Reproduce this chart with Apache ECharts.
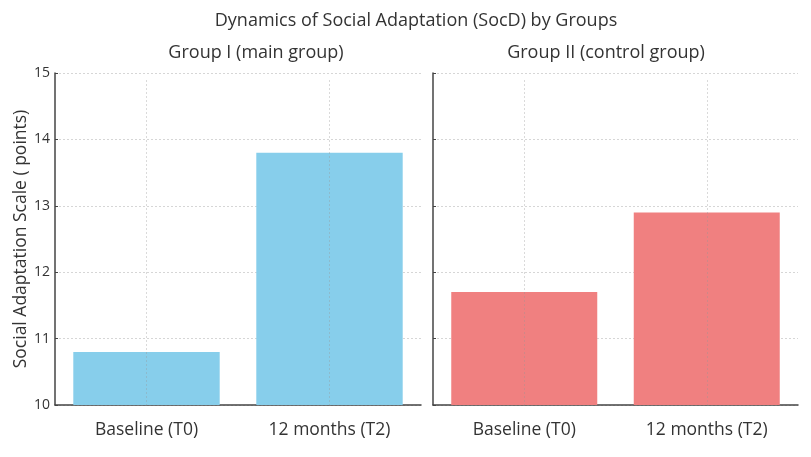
<!DOCTYPE html>
<html>
<head>
<meta charset="utf-8">
<script src="https://cdn.jsdelivr.net/npm/echarts@6/dist/echarts.min.js"></script>
<style>html,body{margin:0;padding:0;background:#fff;}#c{width:811px;height:457px;}</style>
</head>
<body>
<div id="c"></div>
<script>
var categories = ['Baseline (T0)', '12 months (T2)'];
var group1Values = [10.8, 13.8];
var group2Values = [11.7, 12.9];
var panelTitles = ['Group I (main group)', 'Group II (control group)'];
var mainTitle = 'Dynamics of Social Adaptation (SocD) by Groups';
var yAxisName = 'Social Adaptation Scale ( points)';

var chart = echarts.init(document.getElementById('c'));
var font = 'Open Sans';
function yAx(idx, showLabels) {
  return {
    type: 'value', gridIndex: idx, min: 10, max: 15, interval: 1,
    name: showLabels ? yAxisName : '', nameLocation: 'middle', nameGap: 24,
    nameTextStyle: {fontFamily: font, fontSize: 17.5, color: '#333'},
    axisLine: {show: true, lineStyle: {color: '#444', width: 1.5}},
    axisTick: {show: true, inside: true, length: 3, lineStyle: {color: '#444'}},
    axisLabel: {show: showLabels, fontFamily: font, fontSize: 14, color: '#333', margin: 5},
    splitLine: {show: true, lineStyle: {color: '#d6d6d6', type: [2, 2], width: 1}}
  };
}
function xAx(idx) {
  return {
    type: 'category', gridIndex: idx, data: categories,
    axisLine: {show: true, lineStyle: {color: '#444', width: 1.5}},
    axisTick: {show: true, inside: true, alignWithLabel: true, length: 3, lineStyle: {color: '#444'}},
    axisLabel: {fontFamily: font, fontSize: 17.5, color: '#333', margin: 16},
    splitLine: {show: false}
  };
}
function vGrid() {
  return {
    silent: true, symbol: 'none', label: {show: false},
    lineStyle: {color: 'rgba(150,150,150,0.35)', type: [2, 2], width: 1},
    data: categories.map(function (c) { return [{xAxis: c, y: 80}, {xAxis: c, yAxis: 10}]; })
  };
}
chart.setOption({
  backgroundColor: '#fff',
  animation: false,
  title: [
    {text: mainTitle, left: 411, top: 7, textAlign: 'center', textStyle: {fontFamily: font, fontSize: 18, fontWeight: 'normal', color: '#333'}},
    {text: panelTitles[0], left: 251, top: 39, textAlign: 'center', textStyle: {fontFamily: font, fontSize: 18, fontWeight: 'normal', color: '#333'}},
    {text: panelTitles[1], left: 601, top: 39, textAlign: 'center', textStyle: {fontFamily: font, fontSize: 18, fontWeight: 'normal', color: '#333'}}
  ],
  grid: [
    {left: 55, top: 73, width: 366, height: 332},
    {left: 433, top: 73, width: 365, height: 332}
  ],
  xAxis: [xAx(0), xAx(1)],
  yAxis: [yAx(0, true), yAx(1, false)],
  series: [
    {type: 'bar', xAxisIndex: 0, yAxisIndex: 0, data: group1Values, barWidth: '80%', itemStyle: {color: '#87CEEB'}, markLine: vGrid()},
    {type: 'bar', xAxisIndex: 1, yAxisIndex: 1, data: group2Values, barWidth: '80%', itemStyle: {color: '#F08080'}, markLine: vGrid()}
  ]
});
</script>
</body>
</html>
